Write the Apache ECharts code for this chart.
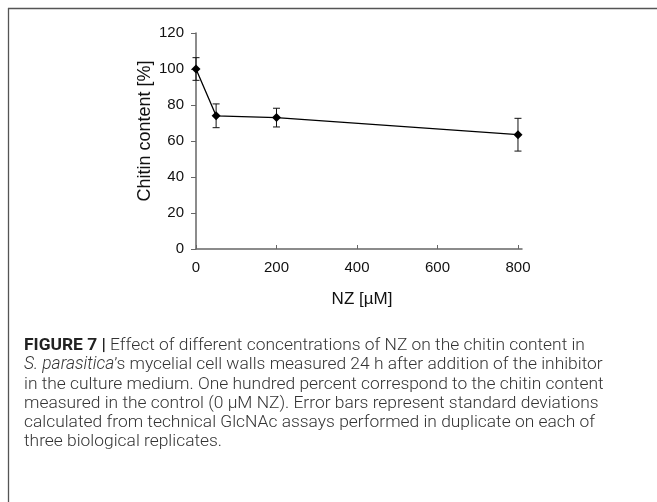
<!DOCTYPE html>
<html>
<head>
<meta charset="utf-8">
<script src="https://cdn.jsdelivr.net/npm/echarts@6/dist/echarts.min.js"></script>
<style>
  html, body { margin: 0; padding: 0; background: #fff; }
  #chart { width: 657px; height: 502px; }
</style>
</head>
<body>
<div id="chart"></div>
<script>
// NZ concentration (µM), mean chitin content (%), standard deviation
const concentrations = [0, 50, 200, 800]
const chitin = [100, 74, 73, 63.5]
const stdDev = [6.3, 6.6, 5.2, 9.1]
const xTicks = [0, 200, 400, 600, 800]

const captionLines = [
  '{b|FIGURE 7 |} Effect of different concentrations of NZ on the chitin content in',
  '{i|S. parasitica}’s mycelial cell walls measured 24 h after addition of the inhibitor',
  'in the culture medium. One hundred percent correspond to the chitin content',
  'measured in the control (0 µM NZ). Error bars represent standard deviations',
  'calculated from technical GlcNAc assays performed in duplicate on each of',
  'three biological replicates.'
]

const chart = echarts.init(document.getElementById('chart'))
const axisColor = '#666'
const font = 'Liberation Sans, Arial, sans-serif'

const errorData = concentrations.map((x, i) => [x, chitin[i] - stdDev[i], chitin[i] + stdDev[i]])

function renderError(params, api) {
  const x = api.value(0)
  const top = api.coord([x, api.value(2)])
  const bot = api.coord([x, api.value(1)])
  const w = 3.5
  const style = { stroke: '#111', lineWidth: 1 }
  return {
    type: 'group',
    children: [
      { type: 'line', shape: { x1: top[0], y1: top[1], x2: bot[0], y2: bot[1] }, style },
      { type: 'line', shape: { x1: top[0] - w, y1: top[1], x2: top[0] + w, y2: top[1] }, style },
      { type: 'line', shape: { x1: bot[0] - w, y1: bot[1], x2: bot[0] + w, y2: bot[1] }, style }
    ]
  }
}

const captionText = {
  fontFamily: 'Roboto, Liberation Sans, sans-serif',
  fontWeight: 300,
  fontSize: 17.4,
  fill: '#333'
}

chart.setOption({
  animation: false,
  grid: { left: 196, right: 135, top: 33, bottom: 253 },
  xAxis: {
    type: 'value',
    min: 0,
    max: 810,
    interval: 200,
    splitLine: { show: false },
    axisLine: { lineStyle: { color: axisColor, width: 1.5 } },
    axisTick: { inside: true, length: 4, customValues: xTicks, lineStyle: { color: axisColor } },
    axisLabel: { customValues: xTicks, margin: 11, fontSize: 15, color: '#111', fontFamily: font }
  },
  yAxis: {
    type: 'value',
    min: 0,
    max: 120,
    interval: 20,
    splitLine: { show: false },
    axisLine: { show: true, lineStyle: { color: axisColor, width: 1.5 } },
    axisTick: { show: true, length: 5, lineStyle: { color: axisColor } },
    axisLabel: { margin: 12, fontSize: 15, color: '#111', fontFamily: font }
  },
  series: [
    {
      type: 'line',
      data: concentrations.map((x, i) => [x, chitin[i]]),
      symbol: 'diamond',
      symbolSize: 9,
      itemStyle: { color: '#000' },
      lineStyle: { color: '#000', width: 1.3 },
      z: 3
    },
    {
      type: 'custom',
      data: errorData,
      renderItem: renderError,
      encode: { x: 0, y: [1, 2] },
      z: 2
    }
  ],
  graphic: [
    { type: 'line', shape: { x1: 8.5, y1: 8, x2: 8.5, y2: 502 }, style: { stroke: '#555', lineWidth: 1.3 } },
    { type: 'line', shape: { x1: 8, y1: 8.5, x2: 657, y2: 8.5 }, style: { stroke: '#555', lineWidth: 1.3 } },
    {
      type: 'text', x: 145, y: 131, rotation: Math.PI / 2,
      style: { text: 'Chitin content [%]', fontSize: 18, fontFamily: font, fill: '#111', align: 'center', verticalAlign: 'middle' }
    },
    {
      type: 'text', x: 362, y: 299,
      style: { text: 'NZ [µM]', fontSize: 17, fontFamily: font, fill: '#111', align: 'center', verticalAlign: 'middle' }
    },
    ...captionLines.map((line, i) => ({
      type: 'text', left: 24, top: 337.5 + i * 19.1,
      style: Object.assign({}, captionText, {
        text: line,
        rich: {
          b: Object.assign({}, captionText, { fontWeight: 'bold', fill: '#222' }),
          i: Object.assign({}, captionText, { fontStyle: 'italic' })
        }
      })
    }))
  ]
})
</script>
</body>
</html>
